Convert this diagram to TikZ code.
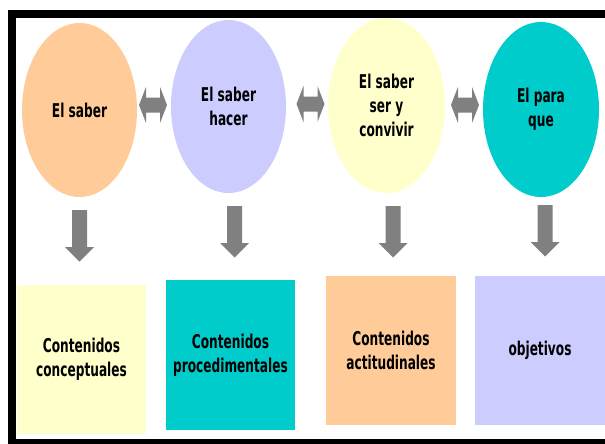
\documentclass[tikz,border=0pt]{standalone}
\usepackage{fontspec}
\newfontfamily\lblfont[FakeStretch=0.64]{DejaVu Sans}
\usetikzlibrary{shapes.geometric}
\definecolor{corange}{HTML}{FFCC99}
\definecolor{clav}{HTML}{CCCCFF}
\definecolor{cyel}{HTML}{FFFFCC}
\definecolor{cteal}{HTML}{00CCCC}
\definecolor{cgray}{HTML}{808080}
\tikzset{
  lbl/.style={font=\lblfont\bfseries\fontsize{19}{24}\selectfont, text=black, align=center},
  ell/.style={ellipse, draw=none, inner sep=0pt, lbl},
  boxnode/.style={rectangle, draw=none, inner sep=0pt, lbl},
  dblarr/.pic={\fill[cgray] (-14,0) -- (-7,-18) -- (-7,-7.5) -- (7,-7.5) -- (7,-18) -- (14,0) -- (7,18) -- (7,7.5) -- (-7,7.5) -- (-7,18) -- cycle;},
  downarr/.pic={\fill[cgray] (-7.5,0) -- (7.5,0) -- (7.5,37) -- (14.5,37) -- (0,51.5) -- (-14.5,37) -- (-7.5,37) -- cycle;}
}
\begin{document}
\begin{tikzpicture}[x=1pt,y=-1pt]
\useasboundingbox (0,0) rectangle (605,444);
\clip (0,0) rectangle (605,444);
\fill[white] (0,0) rectangle (605,444);
% ellipses
\node[ell, fill=corange, minimum width=115, minimum height=174] (e1) at (79.5,110) {El saber};
\node[ell, fill=clav, minimum width=115, minimum height=173] (e2) at (228.5,106.5) {El saber\\hacer};
\node[ell, fill=cyel, minimum width=117, minimum height=175] (e3) at (386.5,105.5) {El saber\\ser y\\convivir};
\node[ell, fill=cteal, minimum width=116, minimum height=175] (e4) at (541,109.5) {El para\\que};
% double arrows
\pic at (153,105) {dblarr};
\pic at (310.5,104) {dblarr};
\pic at (465,105) {dblarr};
% down arrows
\pic at (79.5,210) {downarr};
\pic at (234.5,206) {downarr};
\pic at (393,206) {downarr};
\pic at (545,205) {downarr};
% boxes
\node[boxnode, fill=cyel, minimum width=129, minimum height=149] (b1) at (81.5,359.5) {Contenidos\\conceptuales};
\node[boxnode, fill=cteal, minimum width=129, minimum height=150] (b2) at (230.5,355) {Contenidos\\procedimentales};
\node[boxnode, fill=corange, minimum width=130, minimum height=149] (b3) at (391,350.5) {Contenidos\\actitudinales};
\node[boxnode, fill=clav, minimum width=130, minimum height=149] (b4) at (540,350.5) {objetivos};
% frame
\draw[line width=8] (11.5,14) rectangle (625,443);
\end{tikzpicture}
\end{document}
